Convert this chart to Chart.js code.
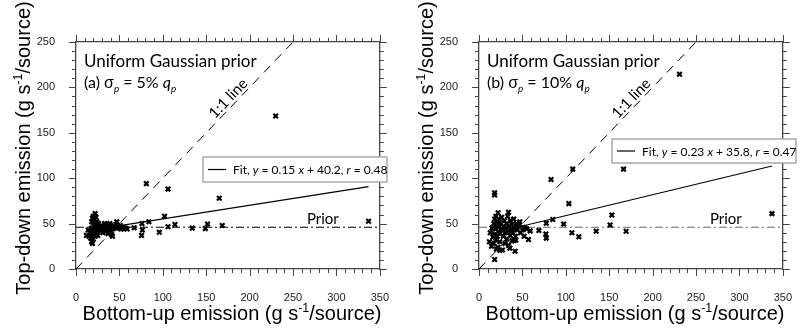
<!DOCTYPE html>
<html>
<head>
<meta charset="utf-8">
<script src="https://cdn.jsdelivr.net/npm/chart.js@4.4.1/dist/chart.umd.min.js"></script>
<style>
  html, body { margin: 0; padding: 0; background: #fff; }
  #wrap { display: flex; width: 806px; height: 328px; }
  .panel { position: relative; width: 403px; height: 328px; }
</style>
</head>
<body>
<div id="wrap">
  <div class="panel"><canvas id="chartA"></canvas></div>
  <div class="panel"><canvas id="chartB"></canvas></div>
</div>
<script>
// Panel (a): sigma_p = 5% q_p
const bottomUpA = [230, 81, 106, 165, 102, 337, 84, 76, 76.5, 75.5, 67, 96, 106, 114, 134, 149, 151.5, 168.5,
  12, 14, 15, 16, 17, 18, 18, 18, 19, 19, 20, 20, 20, 20, 21, 21, 22, 22, 22, 22, 23, 23, 23, 24, 24, 25, 25,
  26, 26, 27, 28, 29, 30, 31, 32, 33, 33, 34, 35, 35, 36, 37, 37, 38, 39, 40, 40, 41, 42, 42, 43, 44, 45, 46,
  47, 48, 50, 51, 52, 54, 55, 57, 59];
const topDownA = [168.5, 94, 88, 78, 58, 52.5, 52, 50, 43, 37, 45.5, 40.5, 46.5, 49, 45, 44.5, 49.5, 48,
  37, 43, 36, 40, 34, 30, 45, 52, 28, 56, 33, 38, 48, 58, 42, 54, 36, 45, 50, 61, 40, 47, 57, 43, 52, 37, 48,
  44, 50, 46, 42, 48, 45, 40, 47, 44, 50, 41, 46, 49, 43, 47, 39, 45, 50, 42, 47, 38, 44, 36, 48, 45, 46, 49,
  52, 47, 45, 48, 44, 46, 44, 45, 44];

// Panel (b): sigma_p = 10% q_p
const bottomUpB = [231, 83, 108, 166.5, 103.5, 153, 337.5, 85, 77.5, 77, 77.5, 69, 97.5, 107, 115, 135, 151, 169.5,
  12, 13, 14.5, 15, 16, 17, 17, 18, 18, 18, 18, 18, 19, 19, 19.5, 20, 20, 21, 21, 22, 22, 22, 23, 23, 24, 24,
  24, 25, 26, 26, 27, 28, 28, 29, 30, 30, 31, 32, 32, 33, 34, 34, 34, 35, 35.5, 36, 36, 37, 38, 38, 39, 40,
  40.5, 41, 41.5, 42, 42.5, 43, 44, 45, 46.5, 47, 48, 50, 51, 52, 53, 55, 57, 59];
const topDownB = [214.5, 98.5, 110, 110, 72, 59.5, 61, 54.5, 50.5, 38.5, 34, 42.5, 49.5, 40, 35.5, 41.5, 48.5, 41.5,
  30, 40, 25, 45, 35, 28, 50, 10.5, 84, 81.5, 38, 55, 32, 44, 58, 22, 48, 36, 52, 62, 24, 41, 46, 55, 20.5, 30,
  39, 50, 43, 57, 21, 36, 47, 53, 40, 28, 45, 50, 33, 58, 62.5, 26, 42, 47, 23, 37, 53, 44, 49, 31, 40, 55,
  31.5, 45, 19.5, 36, 32, 50, 43, 47, 49, 52, 40, 43, 46, 36, 45, 44, 32.5, 42];

const priorValue = 46;
const fitA = { slope: 0.15, intercept: 40.2, r: 0.48, xFrom: 12, xTo: 337 };
const fitB = { slope: 0.23, intercept: 35.8, r: 0.47, xFrom: 12, xTo: 337.5 };
const xRange = [0, 350];
const yRange = [0, 250];
const labelStep = 50;
const minorStep = 10;

const SANS = '"Liberation Sans", Arial, sans-serif';
const HUMAN = 'Lato, "Open Sans", sans-serif';

Chart.defaults.font.family = SANS;

// draws a row of text pieces (italic / subscript / superscript) on one baseline
function drawRuns(ctx, x, y, runs, size, family, align) {
  let total = 0;
  const parts = runs.map(r => {
    const s = (r.sub || r.sup) ? size * 0.62 : size;
    const font = (r.italic ? 'italic ' : '') + s + 'px ' + (r.family || family);
    ctx.font = font;
    const w = ctx.measureText(r.t).width;
    total += w;
    return { t: r.t, font, w, dy: r.sub ? size * 0.22 : r.sup ? -size * 0.4 : 0 };
  });
  let cx = align === 'center' ? x - total / 2 : x;
  ctx.textAlign = 'left';
  ctx.textBaseline = 'alphabetic';
  parts.forEach(p => {
    ctx.font = p.font;
    ctx.fillText(p.t, cx, y + p.dy);
    cx += p.w;
  });
}

const unitRuns = (head) => [{ t: head + ' (g s' }, { t: '-1', sup: true }, { t: '/source)' }];

// outward tick marks on all four sides, longer at labelled values
function drawTicks(ctx, chart, axisId, position) {
  const scale = chart.scales[axisId];
  const area = chart.chartArea;
  const horizontal = position === 'bottom' || position === 'top';
  const [lo, hi] = horizontal ? xRange : yRange;
  ctx.beginPath();
  for (let v = lo; v <= hi; v += minorStep) {
    const len = v % labelStep === 0 ? 7 : 4;
    const p = Math.round(scale.getPixelForValue(v)) + 0.5;
    if (position === 'bottom') { ctx.moveTo(p, area.bottom); ctx.lineTo(p, area.bottom + len); }
    if (position === 'top') { ctx.moveTo(p, area.top); ctx.lineTo(p, area.top - len); }
    if (position === 'left') { ctx.moveTo(area.left, p); ctx.lineTo(area.left - len, p); }
    if (position === 'right') { ctx.moveTo(area.right, p); ctx.lineTo(area.right + len, p); }
  }
  ctx.stroke();
}

const annotations = {
  id: 'annotations',
  afterDraw(chart, args, opts) {
    const ctx = chart.ctx;
    const x = chart.scales.x, y = chart.scales.y;
    ctx.save();
    ctx.setLineDash([]);
    ctx.strokeStyle = '#444';
    ctx.lineWidth = 1;
    drawTicks(ctx, chart, 'x', 'bottom');
    drawTicks(ctx, chart, 'x', 'top');
    drawTicks(ctx, chart, 'y', 'left');
    drawTicks(ctx, chart, 'y', 'right');

    ctx.fillStyle = '#000';
    // axis titles
    drawRuns(ctx, 232, 320, unitRuns('Bottom-up emission'), 20, SANS, 'center');
    ctx.save();
    ctx.translate(30, 148);
    ctx.rotate(-Math.PI / 2);
    drawRuns(ctx, 0, 0, unitRuns('Top-down emission'), 20, SANS, 'center');
    ctx.restore();

    // panel text
    drawRuns(ctx, 84, 67, [{ t: 'Uniform Gaussian prior' }], 17, HUMAN);
    drawRuns(ctx, 84, 88, [
      { t: opts.tag + ' ' }, { t: '\u03c3', family: SANS }, { t: 'p', italic: true, sub: true },
      { t: ' = ' + opts.sigma + ' ' }, { t: 'q', italic: true }, { t: 'p', italic: true, sub: true }
    ], 16, HUMAN);

    // "1:1 line" along the dashed line
    ctx.save();
    ctx.translate(x.getPixelForValue(182), y.getPixelForValue(182));
    ctx.rotate(-Math.atan2(y.getPixelForValue(0) - y.getPixelForValue(1), x.getPixelForValue(1) - x.getPixelForValue(0)));
    drawRuns(ctx, 0, -3, [{ t: '1:1 line' }], 15, HUMAN, 'center');
    ctx.restore();

    // "Prior"
    drawRuns(ctx, x.getPixelForValue(266), y.getPixelForValue(priorValue) - 3, [{ t: 'Prior' }], 15, HUMAN);

    // fit legend box
    const b = opts.box;
    ctx.fillStyle = '#fff';
    ctx.fillRect(b.x, b.y, b.w, b.h);
    ctx.strokeStyle = '#aaa';
    ctx.lineWidth = 1.5;
    ctx.strokeRect(b.x, b.y, b.w, b.h);
    ctx.strokeStyle = '#000';
    ctx.lineWidth = 1.2;
    ctx.beginPath();
    ctx.moveTo(b.x + 5, b.y + b.h / 2);
    ctx.lineTo(b.x + 23, b.y + b.h / 2);
    ctx.stroke();
    ctx.fillStyle = '#000';
    const f = opts.fit;
    drawRuns(ctx, b.x + 30, b.y + b.h / 2 + 4.5, [
      { t: 'Fit, ' }, { t: 'y', italic: true }, { t: ' = ' + f.slope.toFixed(2) + ' ' }, { t: 'x', italic: true },
      { t: ' + ' + f.intercept.toFixed(1) + ', ' }, { t: 'r', italic: true }, { t: ' = ' + f.r.toFixed(2) }
    ], 12, HUMAN);
    ctx.restore();
  }
};

function axis(position, range, labels, size) {
  return {
    type: 'linear',
    position,
    min: range[0],
    max: range[1],
    afterFit: s => { if (s.isHorizontal()) s.height = size; else s.width = size; },
    ticks: {
      display: labels,
      stepSize: minorStep,
      autoSkip: false,
      maxRotation: 0,
      padding: position === 'bottom' ? 14 : 13,
      color: '#222',
      font: { size: 11 },
      callback: v => v % labelStep === 0 ? v : ''
    },
    grid: { display: false },
    border: { display: true, color: '#444', width: 1.3 }
  };
}

function makePanel(id, xs, ys, fit, tag, sigma, box, priorColor) {
  const points = xs.map((v, i) => ({ x: v, y: ys[i] }));
  new Chart(document.getElementById(id), {
    type: 'scatter',
    data: {
      datasets: [
        {
          data: points, pointStyle: 'crossRot', pointRadius: 3.2, borderWidth: 2.2,
          borderColor: '#000', backgroundColor: '#000'
        },
        {
          type: 'line', data: [{ x: fit.xFrom, y: fit.slope * fit.xFrom + fit.intercept }, { x: fit.xTo, y: fit.slope * fit.xTo + fit.intercept }],
          borderColor: '#000', borderWidth: 1.2, pointRadius: 0
        },
        {
          type: 'line', data: [{ x: xRange[0], y: xRange[0] }, { x: xRange[1], y: xRange[1] }],
          borderColor: '#000', borderWidth: 1, borderDash: [9, 7], pointRadius: 0
        },
        {
          type: 'line', data: [{ x: xRange[0], y: priorValue }, { x: xRange[1], y: priorValue }],
          borderColor: priorColor, borderWidth: 1.2, borderDash: [8, 3, 2, 3], pointRadius: 0
        }
      ]
    },
    options: {
      responsive: true,
      maintainAspectRatio: false,
      animation: false,
      layout: { padding: 0 },
      plugins: {
        legend: { display: false },
        tooltip: { enabled: false },
        annotations: { tag, sigma, fit, box }
      },
      scales: {
        x: axis('bottom', xRange, true, 59),
        x2: axis('top', xRange, false, 42),
        y: axis('left', yRange, true, 76),
        y2: axis('right', yRange, false, 10)
      }
    },
    plugins: [annotations]
  });
}

makePanel('chartA', bottomUpA, topDownA, fitA, '(a)', '5%', { x: 203, y: 157, w: 184, h: 25 }, '#000');
makePanel('chartB', bottomUpB, topDownB, fitB, '(b)', '10%', { x: 209, y: 139, w: 184, h: 24 }, '#666');
</script>
</body>
</html>
